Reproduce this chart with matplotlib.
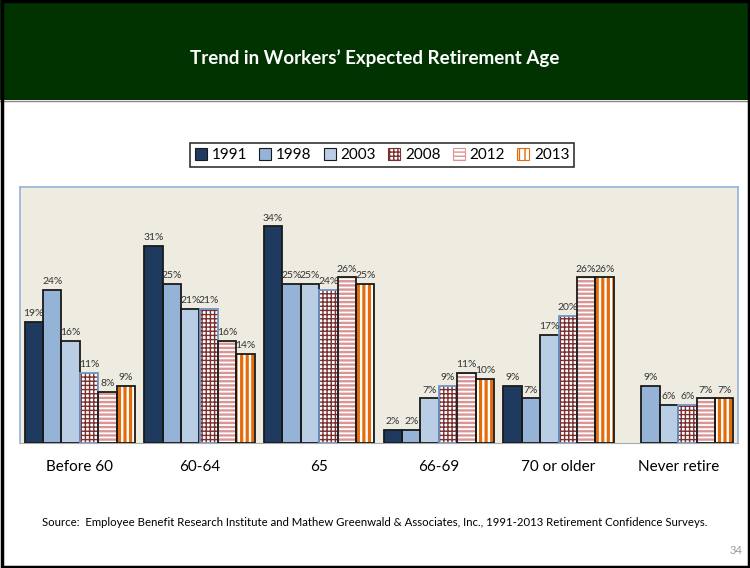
import matplotlib.pyplot as plt
import numpy as np
from matplotlib.patches import Rectangle

# Datos del gráfico
categories = ['Before 60', '60-64', '65', '66-69', '70 or older', 'Never retire']
years = ['1991', '1998', '2003', '2008', '2012', '2013']
v1991 = [19, 31, 34, 2, 9, np.nan]
v1998 = [24, 25, 25, 2, 7, 9]
v2003 = [16, 21, 25, 7, 17, 6]
v2008 = [11, 21, 24, 9, 20, 6]
v2012 = [8, 16, 26, 11, 26, 7]
v2013 = [9, 14, 25, 10, 26, 7]
series = [v1991, v1998, v2003, v2008, v2012, v2013]

# Estilos: (relleno, hatch, color del hatch, borde, grosor del hatch)
styles = [
    ('#1F3A5F', None, None, '#1a1a1a', 0),
    ('#95B3D7', None, None, '#1a1a1a', 0),
    ('#B9CDE5', None, None, '#1a1a1a', 0),
    ('white', '++++', '#7A3030', '#6F95C8', 1.0),
    ('white', '----', '#D99594', '#1a1a1a', 1.7),
    ('white', '|||', '#E46C0A', '#1a1a1a', 2.3),
]

fig = plt.figure(figsize=(7.5, 5.68), dpi=100, facecolor='white')
plt.rcParams['font.family'] = ['Lato', 'DejaVu Sans']

# Cabecera verde
fig.patches.append(Rectangle((0, 1 - 100 / 568), 1, 100 / 568, transform=fig.transFigure,
                             facecolor='#013301', edgecolor='none', zorder=0))
fig.text(0.5, 1 - 58 / 568, 'Trend in Workers\u2019 Expected Retirement Age', color='white',
         fontsize=13.5, fontweight='bold', ha='center', va='center')
fig.lines.append(plt.Line2D([0, 1], [1 - 101 / 568] * 2, transform=fig.transFigure,
                            color='#888888', lw=1))
# Borde de la figura
fig.patches.append(Rectangle((0.002, 0.002), 0.996, 0.996, transform=fig.transFigure,
                             facecolor='none', edgecolor='black', lw=2.5, zorder=10))

ax = fig.add_axes([20 / 750, 1 - 443 / 568, 718 / 750, 256 / 568])
ax.set_facecolor('#EEEBE0')

x = np.arange(len(categories))
w = 0.154
handles = []
for i, (vals, st) in enumerate(zip(series, styles)):
    fc, hatch, hc, ec, hlw = st
    pos = x + (i - 2.5) * w
    if hatch:
        plt.rcParams['hatch.linewidth'] = hlw
        ax.bar(pos, vals, w, color=fc, hatch=hatch, edgecolor=hc, linewidth=0, zorder=2)
    else:
        ax.bar(pos, vals, w, color=fc, linewidth=0, zorder=2)
    ax.bar(pos, vals, w, color='none', edgecolor=ec, linewidth=1.3, zorder=3)
    for px, v in zip(pos, vals):
        if not np.isnan(v):
            ax.text(px, v + 0.6, f'{int(v)}%', ha='center', va='bottom', fontsize=7.5,
                    color='#333333', zorder=4)
    handles.append(Rectangle((0, 0), 1, 1, facecolor=fc, hatch=hatch,
                             edgecolor=hc if hatch else ec, linewidth=0.8))

ax.set_xlim(-0.5, 5.5)
ax.set_ylim(0, 40.2)
ax.set_xticks(x)
ax.set_xticklabels(categories, fontsize=11)
ax.tick_params(axis='x', length=0, pad=12)
ax.set_yticks([])
for s in ['top', 'left', 'right']:
    ax.spines[s].set_color('#95B3D7')
    ax.spines[s].set_linewidth(1.2)
ax.spines['bottom'].set_color('#AAAAAA')

plt.rcParams['hatch.linewidth'] = 1.0
leg = fig.legend(handles, years, loc='center', bbox_to_anchor=(382 / 750, 1 - 155 / 568),
                 ncol=6, fontsize=11, frameon=True, fancybox=False, edgecolor='black',
                 handlelength=0.8, handleheight=0.8, handletextpad=0.3, columnspacing=0.8,
                 borderpad=0.3)
leg.get_frame().set_linewidth(1.2)

fig.text(0.5, 1 - 522 / 568, 'Source:  Employee Benefit Research Institute and Mathew Greenwald & '
         'Associates, Inc., 1991-2013 Retirement Confidence Surveys.', fontsize=8.2,
         ha='center', va='center', color='black')
fig.text(742 / 750, 1 - 551 / 568, '34', fontsize=8, ha='right', va='center', color='#999999')

fig.savefig('out.png', dpi=100)
